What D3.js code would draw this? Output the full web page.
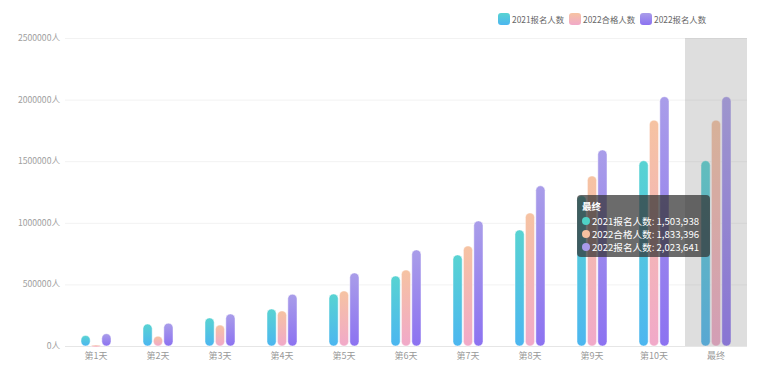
<!DOCTYPE html>
<html>
<head>
<meta charset="utf-8">
<script src="https://cdn.jsdelivr.net/npm/d3@7"></script>
<style>
  body { margin: 0; background: #fff; }
  svg { display: block; font-family: "Noto Sans CJK SC", "Noto Sans", sans-serif; }
</style>
</head>
<body>
<svg id="chart" width="767" height="388"></svg>
<script>
// categories and series
var jours = ["第1天","第2天","第3天","第4天","第5天","第6天","第7天","第8天","第9天","第10天","最终"];
var series = ["2021报名人数","2022合格人数","2022报名人数"];
var inscrits2021 = [85000,178000,228000,300000,422000,568000,739000,942000,1220000,1503938,1503938];
var admis2022 = [8000,80000,170000,285000,447000,617000,812000,1080000,1380000,1833396,1833396];
var inscrits2022 = [100000,185000,260000,420000,593000,780000,1015000,1300000,1591000,2023641,2023641];
var yTicks = [0,500000,1000000,1500000,2000000,2500000];

var valeurs = [inscrits2021, admis2022, inscrits2022];
var couleurs = [["#58d3d2","#4cb6f0"],["#f6c3a2","#f1a9c9"],["#a99de9","#8c72f1"]];
var pastilles = ["#4fd1c5","#f5c0a0","#a99bea"];

var svg = d3.select("#chart");
var marge = {gauche:65, droite:747, haut:38, bas:346};

//------------------- gradients ----------------------------------------
var defs = svg.append("defs");
for (var s = 0; s < series.length; s++){
    var g = defs.append("linearGradient")
        .attr("id","grad"+s)
        .attr("x1",0).attr("y1",0).attr("x2",0).attr("y2",1);
    g.append("stop").attr("offset","0%").attr("stop-color",couleurs[s][0]);
    g.append("stop").attr("offset","100%").attr("stop-color",couleurs[s][1]);
}

//------------------- scales ----------------------------------------
var x = d3.scaleBand().domain(jours).range([marge.gauche, marge.droite]).padding(0);
var x1 = d3.scaleBand().domain(series).range([-15, 15]).paddingInner(0.12);
var y = d3.scaleLinear().domain([0,2500000]).range([marge.bas, marge.haut]);

// grid + y labels
svg.append("g").selectAll("line").data(yTicks).enter().append("line")
    .attr("x1",marge.gauche).attr("x2",marge.droite)
    .attr("y1",function(d){return y(d)+0.5;}).attr("y2",function(d){return y(d)+0.5;})
    .attr("stroke",function(d){return d==0 ? "#e6e6e6" : "#f2f2f2";});

svg.append("g").selectAll("text").data(yTicks).enter().append("text")
    .attr("x",60).attr("y",function(d){return y(d)+3;})
    .attr("text-anchor","end")
    .attr("font-size","8.6px").attr("fill","#a0a0a0")
    .text(function(d){return d+"人";});

// x labels
svg.append("g").selectAll("text").data(jours).enter().append("text")
    .attr("x",function(d){return x(d)+x.bandwidth()/2;}).attr("y",359)
    .attr("text-anchor","middle")
    .attr("font-size","9px").attr("fill","#999")
    .text(function(d){return d;});

//------------------- bars ----------------------------------------
for (var s = 0; s < series.length; s++){
    svg.append("g").selectAll("rect").data(valeurs[s]).enter().append("rect")
        .attr("x",function(d,i){return x(jours[i])+x.bandwidth()/2+x1(series[s]);})
        .attr("width",x1.bandwidth())
        .attr("y",function(d){return y(d);})
        .attr("height",function(d){return Math.max(2, y(0)-y(d));})
        .attr("rx",4.5)
        .attr("fill","url(#grad"+s+")")
        .attr("stroke","rgba(255,255,255,0.6)").attr("stroke-width",0.8);
}

// hover shadow on last category
svg.append("rect")
    .attr("x",x("最终")).attr("y",marge.haut)
    .attr("width",x.bandwidth()).attr("height",marge.bas-marge.haut)
    .attr("fill","rgba(128,128,128,0.26)");

//------------------- legend ----------------------------------------
var legendeX = [498,569,640];
for (var s = 0; s < series.length; s++){
    svg.append("rect").attr("x",legendeX[s]).attr("y",13).attr("width",12).attr("height",12)
        .attr("rx",3).attr("fill","url(#grad"+s+")");
    svg.append("text").attr("x",legendeX[s]+14).attr("y",22.5)
        .attr("font-size","8.4px").attr("fill","#666").text(series[s]);
}

//------------------- tooltip ----------------------------------------
var tip = svg.append("g").attr("transform","translate(577,195)");
tip.append("rect").attr("width",133).attr("height",62).attr("rx",4)
    .attr("fill","rgba(50,50,50,0.72)");
tip.append("text").attr("x",5).attr("y",15).attr("fill","#fff")
    .attr("font-size","9.6px").attr("font-weight","bold").text("最终");
var fmt = d3.format(",");
for (var s = 0; s < series.length; s++){
    tip.append("circle").attr("cx",9).attr("cy",26+s*13).attr("r",4).attr("fill",pastilles[s]);
    tip.append("text").attr("x",15).attr("y",29.5+s*13).attr("fill","#fff")
        .attr("font-size","9.6px")
        .text(series[s]+": "+fmt(valeurs[s][jours.length-1]));
}
</script>
</body>
</html>
